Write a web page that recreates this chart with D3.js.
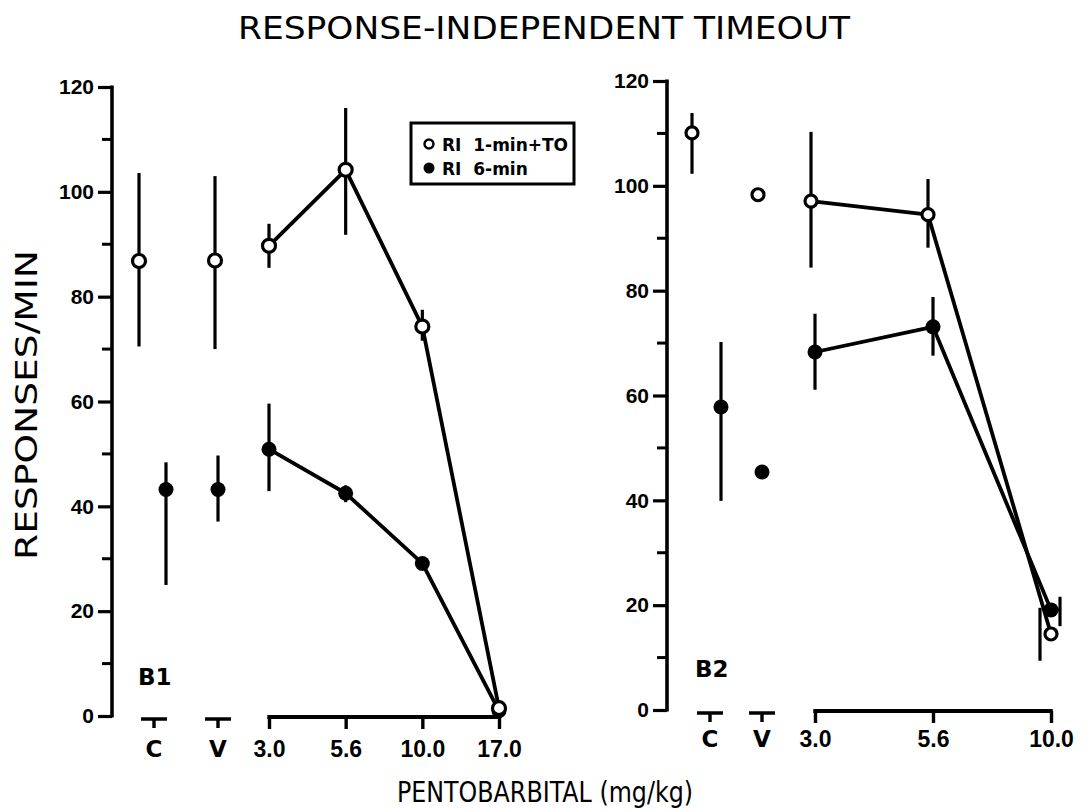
<!DOCTYPE html>
<html>
<head>
<meta charset="utf-8">
<script src="https://cdn.jsdelivr.net/npm/d3@7"></script>
<style>
	body { margin: 0; background: #fff; }
	svg { display: block; font-family: "DejaVu Sans", sans-serif; }
	.tick-label { font-size: 21px; font-weight: bold; }
	.dose-label { font-size: 23px; font-weight: bold; }
</style>
</head>
<body>
<div id="chart"></div>
<script>
"use strict";

// ---- data ----
var b1Categories = ["C", "V", "3.0", "5.6", "10.0", "17.0"];
var b1OpenMean = [86.8, 86.9, 89.7, 104.2, 74.3, 1.5];
var b1OpenHigh = [103.6, 103.0, 93.9, 116.0, 77.5, null];
var b1OpenLow = [70.5, 70.0, 85.5, 91.8, 71.6, null];
var b1FilledMean = [43.2, 43.2, 50.9, 42.5, 29.1, 1.0];
var b1FilledHigh = [48.4, 49.7, 59.6, 44.0, null, null];
var b1FilledLow = [25.0, 37.1, 42.9, 40.8, null, null];

var b2Categories = ["C", "V", "3.0", "5.6", "10.0"];
var b2OpenMean = [110.1, 98.3, 97.1, 94.5, 14.5];
var b2OpenHigh = [113.9, null, 110.3, 101.3, 19.5];
var b2OpenLow = [102.3, null, 84.4, 88.2, 9.4];
var b2FilledMean = [57.8, 45.4, 68.3, 73.1, 19.1];
var b2FilledHigh = [70.2, null, 75.6, 78.8, 21.6];
var b2FilledLow = [39.9, null, 61.1, 67.6, 16.0];

var controlCategories = ["C", "V"];
var yTicks = [0, 20, 40, 60, 80, 100, 120];
var yMinorTicks = [10, 30, 50, 70, 90, 110];
var legendLabels = ["RI  1-min+TO", "RI  6-min"];

// ---- layout ----
var width = 1088,
	height = 811;

var panels = [
	{
		name: "B1", categories: b1Categories,
		axisX: 112, yRange: [716, 87],
		controlX: [154, 218], doseRange: [269, 499],
		labelPos: [138, 685], doseLabelY: 757,
		openR: 6.5, filledR: 7.5,
		// small sideways shifts used in the original to separate overlapping points
		markShift: { "open|C": -15, "filled|C": 12, "open|V": -3 },
		barShift: {},
		series: [
			{ kind: "filled", mean: b1FilledMean, high: b1FilledHigh, low: b1FilledLow },
			{ kind: "open", mean: b1OpenMean, high: b1OpenHigh, low: b1OpenLow }
		]
	},
	{
		name: "B2", categories: b2Categories,
		axisX: 667, yRange: [710, 81],
		controlX: [710, 762], doseRange: [815, 1051],
		labelPos: [695, 677], doseLabelY: 747,
		openR: 6, filledR: 7.5,
		markShift: { "open|C": -18, "filled|C": 11, "open|V": -4, "open|3.0": -4, "open|5.6": -5 },
		barShift: { "open|10.0": -11, "filled|10.0": 9 },
		series: [
			{ kind: "filled", mean: b2FilledMean, high: b2FilledHigh, low: b2FilledLow },
			{ kind: "open", mean: b2OpenMean, high: b2OpenHigh, low: b2OpenLow }
		]
	}
];

var svg = d3.select("#chart")
	.append("svg")
	.attr("width", width)
	.attr("height", height);

// titles
svg.append("text")
	.attr("x", 544)
	.attr("y", 39)
	.attr("text-anchor", "middle")
	.attr("textLength", 612)
	.attr("lengthAdjust", "spacingAndGlyphs")
	.style("font-size", "32px")
	.text("RESPONSE-INDEPENDENT TIMEOUT");

svg.append("text")
	.attr("transform", "translate(37,405) rotate(-90)")
	.attr("text-anchor", "middle")
	.attr("textLength", 310)
	.attr("lengthAdjust", "spacingAndGlyphs")
	.style("font-size", "31px")
	.text("RESPONSES/MIN");

svg.append("text")
	.attr("x", 545)
	.attr("y", 802)
	.attr("text-anchor", "middle")
	.attr("textLength", 296)
	.attr("lengthAdjust", "spacingAndGlyphs")
	.style("font-size", "28px")
	.text("PENTOBARBITAL (mg/kg)");

var doseLines = [];
panels.forEach(drawPanel);
drawLegend(svg.append("g"), 411, 123);

// dose axis baselines, drawn last so nothing sits on top of them
svg.selectAll("rect.dose-line")
	.data(doseLines)
	.enter()
	.append("rect")
	.attr("class", "dose-line")
	.attr("x", function(d) { return d.x0 - 1.7; })
	.attr("y", function(d) { return d.y - 2; })
	.attr("width", function(d) { return d.x1 - d.x0 + 3.4; })
	.attr("height", 4)
	.attr("fill", "#000");

function drawPanel(p) {
	var g = svg.append("g"),
		doses = p.categories.filter(function(c) { return controlCategories.indexOf(c) < 0; }),
		y = d3.scaleLinear().domain([0, 120]).range(p.yRange),
		doseScale = d3.scalePoint().domain(doses).range(p.doseRange),
		x = d3.scaleOrdinal()
			.domain(controlCategories.concat(doses))
			.range(p.controlX.concat(doses.map(function(d) { return doseScale(d); })));

	// y axis
	var yAxis = d3.axisLeft(y)
		.tickValues(yTicks)
		.tickSize(14)
		.tickPadding(4)
		.tickFormat(d3.format("d"));

	var yg = g.append("g")
		.attr("transform", "translate(" + p.axisX + ",0)")
		.call(yAxis);
	yg.select(".domain").remove();
	yg.selectAll("line").attr("stroke", "#000").attr("stroke-width", 3.2);
	yg.selectAll("text").attr("class", "tick-label").attr("fill", "#000");

	g.append("line")
		.attr("x1", p.axisX).attr("x2", p.axisX)
		.attr("y1", y(120) - 1.5).attr("y2", y(0) + 1.5)
		.attr("stroke", "#000").attr("stroke-width", 3.6);

	g.selectAll("line.minor")
		.data(yMinorTicks)
		.enter()
		.append("line")
		.classed("minor", true)
		.attr("x1", p.axisX - 10).attr("x2", p.axisX)
		.attr("y1", y).attr("y2", y)
		.attr("stroke", "#000").attr("stroke-width", 3);

	// dose axis
	var base = y(0) + 1;
	doseLines.push({ x0: doseScale(doses[0]), x1: doseScale(doses[doses.length - 1]), y: base });

	var xg = g.append("g")
		.attr("transform", "translate(0," + base + ")")
		.call(d3.axisBottom(doseScale).tickSize(12).tickSizeOuter(0).tickPadding(9));
	xg.select(".domain").remove();
	xg.selectAll("line").attr("stroke", "#000").attr("stroke-width", 3.4);
	xg.selectAll("text").attr("class", "dose-label").attr("fill", "#000").attr("dy", null)
		.attr("y", p.doseLabelY - base);

	// C and V markers
	var ctrl = g.selectAll("g.ctrl")
		.data(controlCategories)
		.enter()
		.append("g")
		.classed("ctrl", true)
		.attr("transform", function(d) { return "translate(" + x(d) + "," + (base + 2) + ")"; });
	ctrl.append("path")
		.attr("d", "M-13,0H13M0,0V9")
		.attr("stroke", "#000").attr("stroke-width", 3.4).attr("fill", "none");
	ctrl.append("text")
		.attr("class", "dose-label")
		.attr("text-anchor", "middle")
		.attr("y", p.doseLabelY - base - 2)
		.text(function(d) { return d; });

	// panel label
	g.append("text")
		.attr("x", p.labelPos[0])
		.attr("y", p.labelPos[1])
		.style("font-size", "23px")
		.style("font-weight", "bold")
		.text(p.name);

	function pointsOf(s) {
		return p.categories.map(function(c, i) {
			return { cat: c, kind: s.kind, v: s.mean[i], hi: s.high[i], lo: s.low[i] };
		});
	}
	function markX(d) {
		return x(d.cat) + (p.markShift[d.kind + "|" + d.cat] || 0);
	}
	function barX(d) {
		var key = d.kind + "|" + d.cat;
		return key in p.barShift ? x(d.cat) + p.barShift[key] : markX(d);
	}

	var line = d3.line()
		.x(markX)
		.y(function(d) { return y(d.v); });

	// connecting lines through the doses
	p.series.forEach(function(s) {
		var pts = pointsOf(s).filter(function(d) { return doses.indexOf(d.cat) >= 0; });
		g.append("path")
			.datum(pts)
			.attr("d", line)
			.attr("fill", "none")
			.attr("stroke", "#000")
			.attr("stroke-width", 3.8)
			.attr("stroke-linejoin", "round");
	});

	// error bars
	p.series.forEach(function(s) {
		var pts = pointsOf(s).filter(function(d) { return d.hi != null; });
		g.selectAll(null)
			.data(pts)
			.enter()
			.append("line")
			.attr("x1", barX).attr("x2", barX)
			.attr("y1", function(d) { return y(d.hi); })
			.attr("y2", function(d) { return y(d.lo); })
			.attr("stroke", "#000")
			.attr("stroke-width", 3.2);
		// stub joining a shifted bar back to its point
		g.selectAll(null)
			.data(pts.filter(function(d) { return barX(d) !== markX(d) && d.kind === "filled"; }))
			.enter()
			.append("line")
			.attr("x1", markX).attr("x2", barX)
			.attr("y1", function(d) { return y(d.v); })
			.attr("y2", function(d) { return y(d.v); })
			.attr("stroke", "#000")
			.attr("stroke-width", 3);
	});

	// markers
	p.series.forEach(function(s) {
		g.selectAll(null)
			.data(pointsOf(s).filter(function(d) { return d.v != null; }))
			.enter()
			.append("circle")
			.attr("cx", markX)
			.attr("cy", function(d) { return y(d.v); })
			.attr("r", s.kind === "open" ? p.openR : p.filledR)
			.attr("fill", s.kind === "open" ? "#fff" : "#000")
			.attr("stroke", "#000")
			.attr("stroke-width", s.kind === "open" ? 3.2 : 0);
	});
}

function drawLegend(g, lx, ly) {
	g.append("rect")
		.attr("x", lx).attr("y", ly)
		.attr("width", 163).attr("height", 61)
		.attr("fill", "#fff")
		.attr("stroke", "#000")
		.attr("stroke-width", 3);

	var item = g.selectAll("g.item")
		.data(legendLabels)
		.enter()
		.append("g")
		.classed("item", true)
		.attr("transform", function(d, i) { return "translate(" + (lx + 18) + "," + (ly + 21 + i * 24) + ")"; });

	item.append("circle")
		.attr("r", function(d, i) { return i === 0 ? 4.5 : 5.5; })
		.attr("fill", function(d, i) { return i === 0 ? "#fff" : "#000"; })
		.attr("stroke", "#000")
		.attr("stroke-width", function(d, i) { return i === 0 ? 2.4 : 0; });

	item.append("text")
		.attr("x", 13)
		.attr("y", 7)
		.style("font-size", "17px")
		.style("font-weight", "bold")
		.style("white-space", "pre")
		.attr("xml:space", "preserve")
		.text(function(d) { return d; });
}
</script>
</body>
</html>
